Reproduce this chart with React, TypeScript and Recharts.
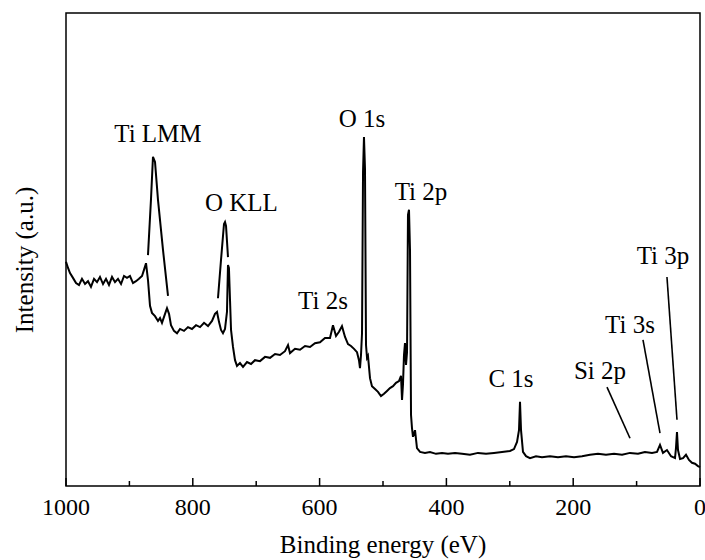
import React from 'react'
import { LineChart, Line, XAxis, YAxis, ReferenceArea, ReferenceDot, ReferenceLine } from 'recharts'

// survey spectrum, binding energy (eV) and intensity (a.u., 0-100 scale)
const surveyEnergy = [
  1000, 996.8, 993.7, 989.0, 984.2, 979.5, 974.8, 970.0, 965.3, 960.6, 955.8, 951.1, 946.4, 941.6, 936.9, 932.2,
  927.4, 922.7, 918.0, 913.2, 908.5, 903.8, 899.1, 894.3, 889.6, 884.9, 880.1, 877.0, 873.8, 870.7, 867.5, 864.4,
  859.6, 854.9, 851.7, 848.6, 843.8, 840.7, 837.5, 834.4, 829.7, 824.9, 820.2, 813.9, 807.6, 801.3, 794.9, 788.6,
  782.3, 776.0, 769.7, 765.0, 761.8, 758.7, 755.5, 752.4, 749.2, 746.1, 744.5, 743.0, 741.3, 739.7, 736.6, 733.4,
  730.3, 725.6, 720.8, 714.5, 708.2, 701.9, 694.0, 686.1, 678.2, 670.3, 662.5, 654.6, 649.8, 646.7, 638.8, 630.9,
  623.0, 615.1, 607.3, 599.4, 591.5, 583.6, 578.9, 574.1, 569.4, 564.7, 559.9, 555.2, 550.5, 545.7, 541.0, 537.9,
  536.3, 534.7, 533.1, 531.5, 530.0, 528.4, 526.8, 525.2, 523.7, 520.5, 517.4, 512.6, 507.9, 503.2, 498.4, 493.7,
  489.0, 484.2, 479.5, 474.8, 471.6, 470.0, 468.5, 466.9, 465.3, 463.7, 462.1, 460.6, 459.0, 457.4, 455.8, 454.3,
  452.7, 449.5, 446.4, 441.6, 433.8, 425.9, 416.4, 406.9, 397.5, 386.4, 375.4, 362.8, 350.2, 337.5, 324.9, 312.3,
  299.7, 293.4, 288.6, 285.5, 283.9, 282.3, 279.2, 274.4, 268.1, 258.7, 249.2, 236.6, 224.0, 211.4, 198.7, 186.1,
  173.5, 160.9, 148.3, 135.6, 123.0, 110.4, 97.8, 86.8, 75.7, 67.8, 63.1, 58.4, 52.1, 45.7, 39.4, 37.9,
  36.3, 34.7, 31.5, 26.8, 22.1, 17.4, 12.6, 7.9, 3.2, 0,
]
const surveyIntensity = [
  47.4, 46.1, 45.0, 44.0, 42.9, 42.5, 43.8, 42.7, 43.3, 42.1, 43.8, 43.1, 44.2, 42.7, 43.8, 42.5,
  44.2, 43.1, 43.8, 42.7, 44.4, 44.0, 44.4, 42.9, 43.3, 43.8, 44.4, 45.7, 47.1, 43.6, 38.1, 36.6,
  35.9, 34.9, 35.5, 34.5, 36.4, 37.6, 36.4, 34.0, 32.8, 32.3, 33.2, 32.8, 33.6, 33.2, 34.0, 33.6,
  34.5, 33.8, 34.9, 36.4, 36.8, 34.7, 33.0, 32.3, 33.2, 36.8, 46.7, 46.1, 39.3, 33.0, 29.4, 26.6,
  25.4, 26.0, 25.2, 26.2, 25.8, 26.6, 26.4, 27.3, 27.1, 27.9, 27.7, 28.5, 29.8, 28.1, 29.0, 28.8,
  29.6, 29.4, 30.2, 30.4, 31.3, 31.3, 34.0, 31.7, 32.6, 33.8, 31.5, 30.0, 29.6, 29.0, 28.3, 26.6,
  24.9, 27.7, 32.3, 66.4, 73.8, 67.0, 29.8, 27.1, 27.5, 22.8, 21.1, 20.5, 19.9, 19.0, 19.5, 20.1,
  20.7, 21.1, 21.8, 22.2, 23.3, 18.2, 21.4, 27.7, 30.2, 25.6, 28.3, 57.3, 58.4, 49.9, 15.0, 12.3,
  10.4, 11.8, 8.0, 7.2, 7.0, 7.2, 6.8, 7.0, 6.8, 7.0, 6.8, 6.6, 7.0, 6.8, 7.0, 7.2,
  7.4, 7.8, 9.3, 11.8, 17.8, 11.8, 7.2, 6.3, 5.9, 6.3, 6.1, 6.3, 6.1, 6.3, 6.1, 6.3,
  6.6, 6.8, 6.6, 6.8, 6.6, 7.0, 6.8, 7.2, 7.0, 7.2, 8.7, 7.0, 7.6, 6.3, 5.9, 8.0,
  11.4, 7.6, 5.7, 5.9, 6.6, 5.5, 4.9, 4.7, 4.2, 4.0,
]

// Auger peaks (Ti LMM, O KLL), drawn as separate strokes
const augerEnergy = [870.7, 866.0, 862.8, 859.6, 854.9, 847.0, 839.1, 800, 760.3, 755.5, 750.8, 749.2, 747.6, 744.5]
const augerIntensity = [48.8, 60.5, 69.6, 68.5, 60.5, 49.9, 40.2, null, 39.7, 47.8, 55.4, 55.8, 55.0, 48.4]

const peakLabels = ['Ti LMM', 'O KLL', 'O 1s', 'Ti 2p', 'Ti 2s', 'C 1s', 'Si 2p', 'Ti 3s', 'Ti 3p']
const peakLabelEnergy = [855, 723.3, 533.1, 440.1, 594.6, 298.1, 157.7, 110.4, 58.4]
const peakLabelIntensity = [72.7, 58.1, 75.9, 60.5, 37.4, 20.9, 22.6, 32.3, 46.9]

// pointer lines [fromEnergy, fromIntensity, toEnergy, toIntensity]
const pointers = [
  [146.7, 20.9, 110.4, 10.1],
  [89.9, 30.9, 63.1, 11.2],
  [52.1, 44.2, 36.3, 14.0],
]

const energyTicks = [1000, 900, 800, 700, 600, 500, 400, 300, 200, 100, 0]

const survey = surveyEnergy.map((e, i) => ({ e, v: surveyIntensity[i] }))
const auger = augerEnergy.map((e, i) => ({ e, v: augerIntensity[i] }))

const FONT = 'Liberation Serif'

const EnergyTick = ({ x, y, payload }: any) => {
  const major = payload.value % 200 === 0
  return (
    <g>
      <line x1={x} x2={x} y1={y} y2={y - (major ? 8 : 5)} stroke='#000' strokeWidth={1.5} />
      {major && (
        <text x={x} y={y + 29} textAnchor='middle' fontFamily={FONT} fontSize={24} fill='#000'>
          {payload.value}
        </text>
      )}
    </g>
  )
}

const peakLabel = (text: string) => (props: any) => {
  const vb = props.viewBox
  return (
    <text x={vb.x + vb.width / 2} y={vb.y + vb.height / 2} textAnchor='middle' fontFamily={FONT} fontSize={25} fill='#000'>
      {text}
    </text>
  )
}

export default function App() {
  return (
    <div style={{ position: 'absolute', left: 0, top: 0, background: '#fff' }}>
      <LineChart width={705} height={560} margin={{ top: 13, right: 5, bottom: 0, left: 0 }}>
        <XAxis
          type='number'
          dataKey='e'
          domain={[0, 1000]}
          reversed
          ticks={energyTicks}
          interval={0}
          tickSize={0}
          tickMargin={0}
          axisLine={false}
          tickLine={false}
          height={74}
          tick={<EnergyTick />}
          label={() => (
            <text x={383} y={553} textAnchor='middle' fontFamily={FONT} fontSize={25} fill='#000'>
              Binding energy (eV)
            </text>
          )}
        />
        <YAxis
          type='number'
          domain={[0, 100]}
          width={66}
          tick={false}
          tickLine={false}
          axisLine={false}
          label={() => (
            <text x={33} y={260} transform='rotate(-90 33 260)' textAnchor='middle' fontFamily={FONT} fontSize={25} fill='#000'>
              Intensity (a.u.)
            </text>
          )}
        />
        <ReferenceArea x1={0} x2={1000} y1={0} y2={100} fill='none' stroke='#000' strokeWidth={1.5} />
        {pointers.map((p, i) => (
          <ReferenceLine
            key={i}
            segment={[
              { x: p[0], y: p[1] },
              { x: p[2], y: p[3] },
            ]}
            stroke='#000'
            strokeWidth={1.6}
          />
        ))}
        <Line
          data={survey}
          dataKey='v'
          type='linear'
          stroke='#000'
          strokeWidth={2}
          dot={false}
          isAnimationActive={false}
        />
        <Line
          data={auger}
          dataKey='v'
          type='linear'
          stroke='#000'
          strokeWidth={2}
          dot={false}
          connectNulls={false}
          isAnimationActive={false}
        />
        {peakLabels.map((t, i) => (
          <ReferenceDot
            key={t}
            x={peakLabelEnergy[i]}
            y={peakLabelIntensity[i]}
            r={1}
            fill='none'
            stroke='none'
            label={peakLabel(t)}
          />
        ))}
      </LineChart>
    </div>
  )
}
